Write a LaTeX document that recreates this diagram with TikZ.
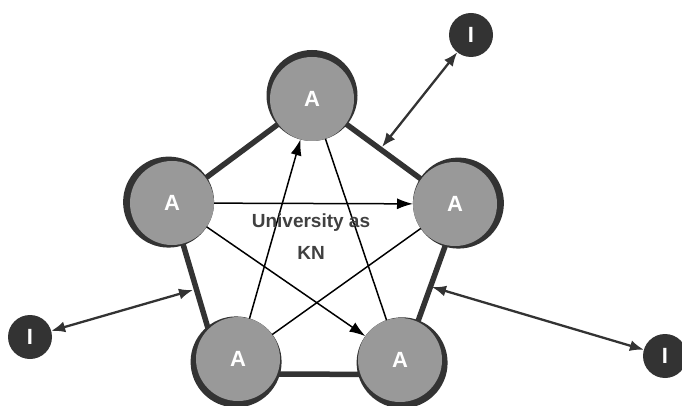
\documentclass[tikz,border=0pt]{standalone}
\usepackage{fontspec}
\newfontfamily\diagfont{Liberation Sans}
\usetikzlibrary{arrows.meta, backgrounds}
\definecolor{ringdark}{HTML}{333333}
\definecolor{agentgray}{HTML}{999999}
\definecolor{kntext}{HTML}{404040}

\begin{document}
\begin{tikzpicture}[x=1pt,y=-1pt,
  agent/.style={circle,fill=agentgray,minimum size=84pt,inner sep=0pt,outer sep=0pt,
    text=white,font=\diagfont\bfseries\fontsize{22}{22}\selectfont},
  agentring/.style={circle,fill=ringdark,minimum size=91pt,inner sep=0pt},
  inst/.style={circle,fill=ringdark,minimum size=44pt,inner sep=0pt,outer sep=0pt,
    text=white,font=\diagfont\bfseries\fontsize{22}{22}\selectfont},
  link/.style={ringdark,line width=5.5pt},
  tie/.style={black,line width=1.5pt},
  flow/.style={tie,-{Latex[length=16pt,width=11pt]}},
  reach/.style={ringdark,line width=2.3pt,{Latex[length=14pt,width=11pt]}-{Latex[length=14pt,width=11pt]}}]
\useasboundingbox (0,0) rectangle (682,406);

% agents: dark ring pushed outward, grey disc on top
\foreach \n/\x/\y/\dx/\dy in {T/312/99/0/3.5, L/172/203/-3.4/0.9, R/455/204/3.4/0.9,
    BL/238/359/-1.9/-2.9, BR/400/360/2.1/-2.8} {
  \node[agentring,xshift=\dx pt,yshift=\dy pt] at (\x,\y) {};
  \node[agent] (\n) at (\x,\y) {A};
}

% outer ring of the network
\begin{scope}[on background layer]
\draw[link] (T.center) -- (L.center) (T.center) -- (R.center);
\draw[link,shorten <=-4pt,shorten >=-4pt] (R.-103) -- (BR.65) (BR.200) -- (BL.-21)
  (BL.135) -- (L.-75);
\end{scope}

% ties inside
\draw[flow] (L) -- (R);
\draw[flow] (BL) -- (T);
\draw[flow] (L) -- (BR);
\draw[tie] (T) -- (BR);
\draw[tie] (BL) -- (R);

\node[align=center,text=kntext,font=\diagfont\bfseries\fontsize{19}{32}\selectfont]
  (kn) at (311,237) {University as\\KN};

% institutions
\node[inst] (I1) at (471,35) {I};
\node[inst] (I2) at (30,337) {I};
\node[inst] (I3) at (665,356) {I};
\coordinate (tr) at (382,147);
\coordinate (lb) at (193,290);
\coordinate (rb) at (432,287);
\draw[reach] (I1) -- (tr);
\draw[reach] (I2) -- (lb);
\draw[reach] (I3) -- (rb);
\end{tikzpicture}
\end{document}
